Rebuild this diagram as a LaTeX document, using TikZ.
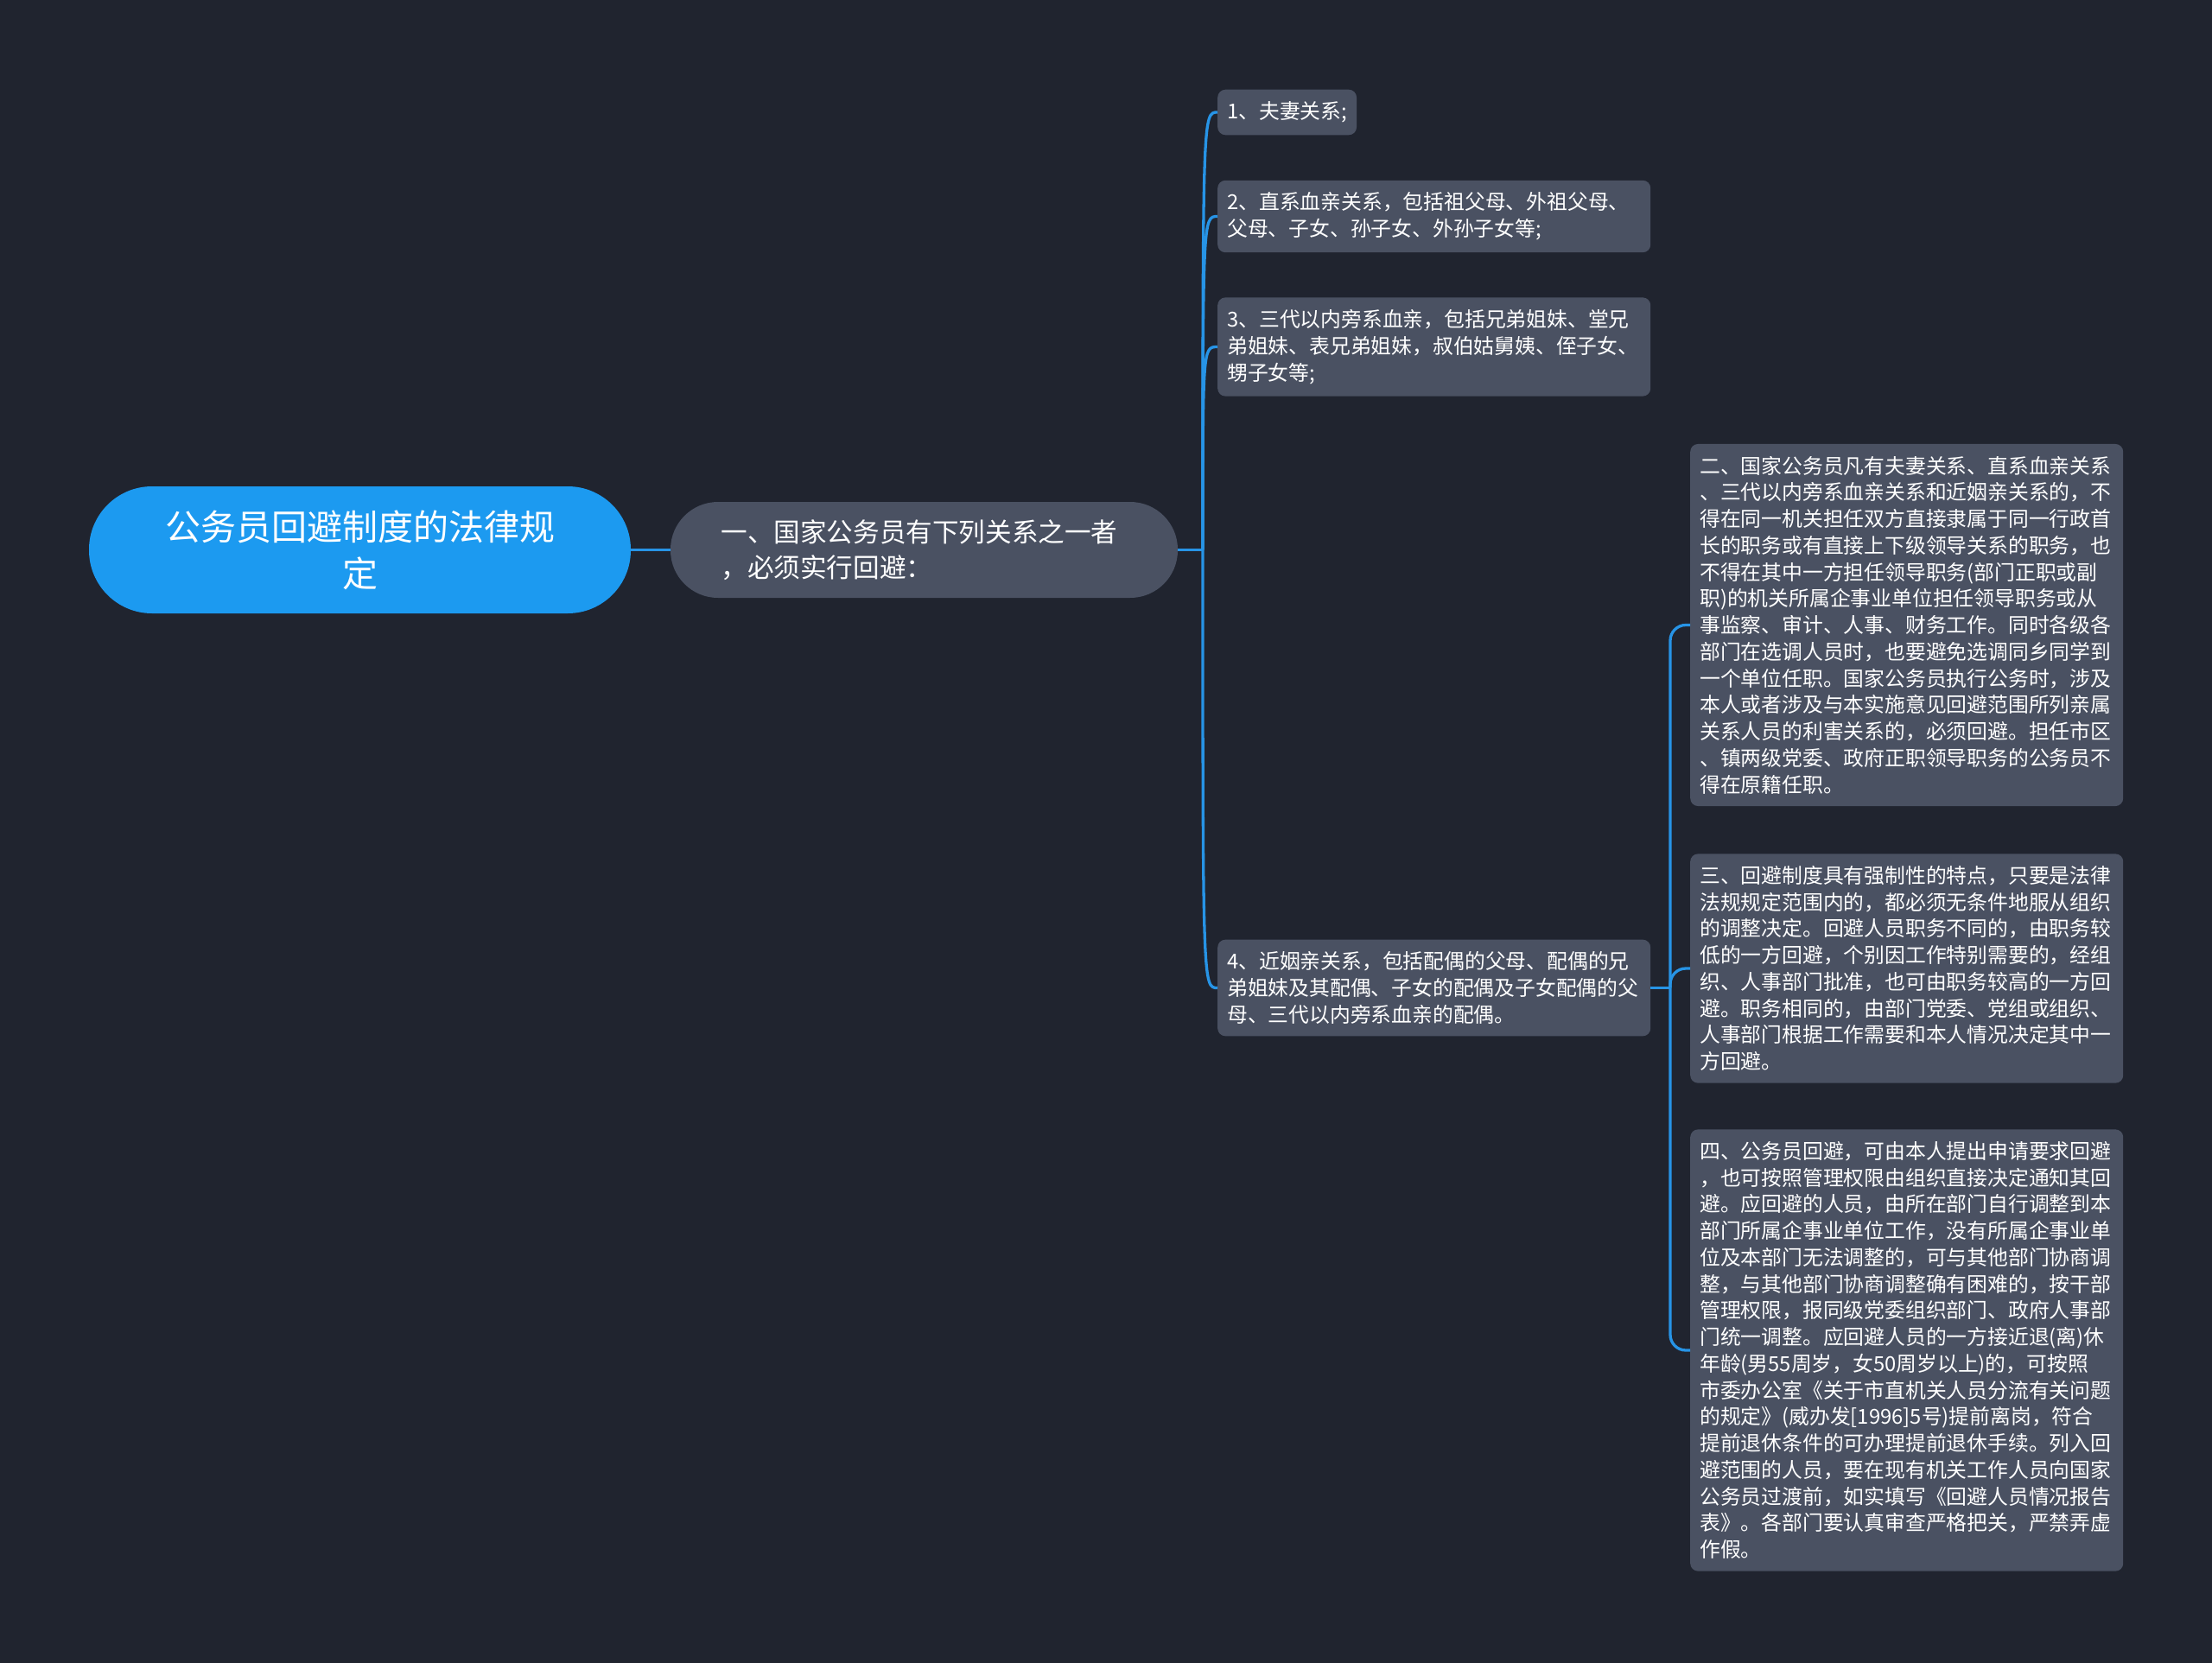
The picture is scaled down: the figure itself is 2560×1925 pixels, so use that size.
\documentclass[tikz,border=0pt]{standalone}
\usepackage{fontspec}
\setmainfont{Noto Sans CJK SC}
\usepackage{xcolor}
\usetikzlibrary{positioning}
\definecolor{bgdark}{HTML}{20242F}
\definecolor{boxgray}{HTML}{4A5162}
\definecolor{rootblue}{HTML}{1C9AF0}
\definecolor{linkblue}{HTML}{2794E6}

\begin{document}
\begin{tikzpicture}[x=1pt,y=-1pt,
    rootnode/.style={fill=rootblue,text=white,rounded corners=73pt,minimum width=627pt,
        minimum height=147pt,inner sep=0pt,align=center,font=\fontsize{41}{54}\selectfont},
    mainnode/.style={fill=boxgray,text=white,rounded corners=55pt,minimum width=587pt,
        minimum height=111pt,inner sep=0pt,text width=470pt,align=left,
        font=\fontsize{30.6}{40.8}\selectfont},
    leaf/.style={fill=boxgray,text=white,rounded corners=9pt,anchor=west,inner xsep=11pt,
        inner ysep=14pt,align=left,font=\fontsize{23.8}{30.75}\selectfont},
    wide/.style={text width=479pt},
    link/.style={draw=linkblue,line width=3.3pt}]
    % Background
    \fill[bgdark] (0,0) rectangle (2560,1925);
    % Root and first level
    \node[rootnode] (root) at (416.5,636.5) {公务员回避制度的法律规\\定};
    \node[mainnode] (rel) at (1069.5,636.5) {一、国家公务员有下列关系之一者\\，必须实行回避：};
    % Kinship items
    \node[leaf] (k1) at (1409,130) {1、夫妻关系;};
    \node[leaf,wide] (k2) at (1409,250.5) {2、直系血亲关系，包括祖父母、外祖父母、\\
        父母、子女、孙子女、外孙子女等;};
    \node[leaf,wide] (k3) at (1409,401.5) {3、三代以内旁系血亲，包括兄弟姐妹、堂兄\\
        弟姐妹、表兄弟姐妹，叔伯姑舅姨、侄子女、\\
        甥子女等;};
    \node[leaf,wide] (k4) at (1409,1143.5) {4、近姻亲关系，包括配偶的父母、配偶的兄\\
        弟姐妹及其配偶、子女的配偶及子女配偶的父\\
        母、三代以内旁系血亲的配偶。};
    % Rules
    \node[leaf,wide] (r2) at (1956,723.5) {二、国家公务员凡有夫妻关系、直系血亲关系\\
        、三代以内旁系血亲关系和近姻亲关系的，不\\
        得在同一机关担任双方直接隶属于同一行政首\\
        长的职务或有直接上下级领导关系的职务，也\\
        不得在其中一方担任领导职务(部门正职或副\\
        职)的机关所属企事业单位担任领导职务或从\\
        事监察、审计、人事、财务工作。同时各级各\\
        部门在选调人员时，也要避免选调同乡同学到\\
        一个单位任职。国家公务员执行公务时，涉及\\
        本人或者涉及与本实施意见回避范围所列亲属\\
        关系人员的利害关系的，必须回避。担任市区\\
        、镇两级党委、政府正职领导职务的公务员不\\
        得在原籍任职。};
    \node[leaf,wide] (r3) at (1956,1121) {三、回避制度具有强制性的特点，只要是法律\\
        法规规定范围内的，都必须无条件地服从组织\\
        的调整决定。回避人员职务不同的，由职务较\\
        低的一方回避，个别因工作特别需要的，经组\\
        织、人事部门批准，也可由职务较高的一方回\\
        避。职务相同的，由部门党委、党组或组织、\\
        人事部门根据工作需要和本人情况决定其中一\\
        方回避。};
    \node[leaf,wide] (r4) at (1956,1563) {四、公务员回避，可由本人提出申请要求回避\\
        ，也可按照管理权限由组织直接决定通知其回\\
        避。应回避的人员，由所在部门自行调整到本\\
        部门所属企事业单位工作，没有所属企事业单\\
        位及本部门无法调整的，可与其他部门协商调\\
        整，与其他部门协商调整确有困难的，按干部\\
        管理权限，报同级党委组织部门、政府人事部\\
        门统一调整。应回避人员的一方接近退(离)休\\
        年龄(男55周岁，女50周岁以上)的，可按照\\
        市委办公室《关于市直机关人员分流有关问题\\
        的规定》(威办发[1996]5号)提前离岗，符合\\
        提前退休条件的可办理提前退休手续。列入回\\
        避范围的人员，要在现有机关工作人员向国家\\
        公务员过渡前，如实填写《回避人员情况报告\\
        表》。各部门要认真审查严格把关，严禁弄虚\\
        作假。};
    % Links
    \draw[link] (root) -- (rel);
    \coordinate (fork) at (1392,636.5);
    \draw[link] (rel.east) -- (fork);
    \foreach \k in {k1,k2,k3,k4}
        \draw[link] (fork) .. controls (fork |- \k.west) .. (\k.west);
    \coordinate (fork2) at (1933,1143.5);
    \draw[link] (k4.east) -- (fork2);
    \foreach \r in {r2,r3,r4}
        \draw[link,rounded corners=18pt] (fork2) |- (\r.west);
\end{tikzpicture}
\end{document}
